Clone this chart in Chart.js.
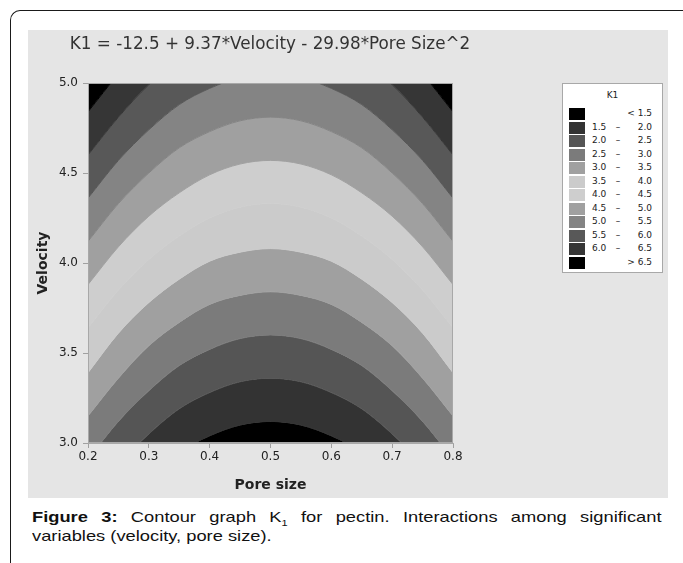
<!DOCTYPE html>
<html>
<head>
<meta charset="utf-8">
<script src="https://cdn.jsdelivr.net/npm/chart.js@4/dist/chart.umd.min.js"></script>
<style>
  body { margin: 0; background: #fff; width: 683px; height: 563px; overflow: hidden; position: relative; }
  #frame { position: absolute; left: 10px; top: 10px; width: 690px; height: 600px;
    border-top: 1.5px solid #1a1a1a; border-left: 1.5px solid #1a1a1a; border-top-left-radius: 10px; }
  #panel { position: absolute; left: 28px; top: 30px; width: 640px; height: 468px; background: #e5e5e5; }
  #title { position: absolute; left: 0; top: 3px; width: 484px; text-align: center;
    font: 16.8px "DejaVu Sans", sans-serif; color: #333; white-space: nowrap; }
  #legend { position: absolute; left: 534px; top: 53px; width: 99px; height: 188px;
    background: #fff; border: 1px solid #a8a8a8; font: 9px "DejaVu Sans", sans-serif; color: #222; }
  #legend .head { position: absolute; left: 0; width: 99px; top: 6px; text-align: center; }
  #legend .sw { position: absolute; left: 6px; width: 16px; height: 12px; }
  #legend .lo { position: absolute; left: 29px; }
  #legend .mid { position: absolute; left: 50px; width: 10px; text-align: center; }
  #legend .hi { position: absolute; right: 10px; }
  #caption { position: absolute; left: 32px; top: 508px; width: 516px;
    transform: scaleX(1.22); transform-origin: 0 0;
    font: 15px "Liberation Sans", Arial, sans-serif; color: #111; line-height: 18.5px; }
  #caption .l1 { text-align: justify; text-align-last: justify; white-space: nowrap; }
</style>
</head>
<body>
<div id="frame"></div>
<div id="panel">
  <div id="title">K1 = -12.5 + 9.37*Velocity - 29.98*Pore Size^2</div>
  <canvas id="chart" width="640" height="468"></canvas>
  <div id="legend"><div class="head">K1</div></div>
</div>
<div id="caption">
  <div class="l1"><b>Figure 3:</b> Contour graph K<sub style="font-size:9px; line-height:0">1</sub> for pectin. Interactions among significant</div>
  <div>variables (velocity, pore size).</div>
</div>
<script>
// pore size positions where the contour lines were read
const poreSize = [0.2, 0.25, 0.3, 0.35, 0.4, 0.45, 0.5, 0.55, 0.6, 0.65, 0.7, 0.75, 0.8];

// velocity of each contour line (K1 level) at the pore sizes above
const v15 = [2.43, 2.64, 2.81, 2.95, 3.04, 3.10, 3.12, 3.10, 3.04, 2.95, 2.81, 2.64, 2.43];
const v20 = [2.67, 2.88, 3.05, 3.19, 3.28, 3.34, 3.36, 3.34, 3.28, 3.19, 3.05, 2.88, 2.67];
const v25 = [2.91, 3.12, 3.29, 3.43, 3.52, 3.58, 3.60, 3.58, 3.52, 3.43, 3.29, 3.12, 2.91];
const v30 = [3.15, 3.36, 3.54, 3.67, 3.77, 3.82, 3.84, 3.82, 3.77, 3.67, 3.54, 3.36, 3.15];
const v35 = [3.39, 3.61, 3.78, 3.91, 4.01, 4.06, 4.08, 4.06, 4.01, 3.91, 3.78, 3.61, 3.39];
const v40 = [3.64, 3.85, 4.02, 4.15, 4.25, 4.31, 4.33, 4.31, 4.25, 4.15, 4.02, 3.85, 3.64];
const v45 = [3.88, 4.09, 4.26, 4.39, 4.49, 4.55, 4.57, 4.55, 4.49, 4.39, 4.26, 4.09, 3.88];
const v50 = [4.12, 4.33, 4.50, 4.64, 4.73, 4.79, 4.81, 4.79, 4.73, 4.64, 4.50, 4.33, 4.12];
const v55 = [4.36, 4.57, 4.74, 4.88, 4.97, 5.03, 5.05, 5.03, 4.97, 4.88, 4.74, 4.57, 4.36];
const v60 = [4.60, 4.81, 4.99, 5.12, 5.21, 5.27, 5.29, 5.27, 5.21, 5.12, 4.99, 4.81, 4.60];
const v65 = [4.84, 5.05, 5.23, 5.36, 5.46, 5.51, 5.53, 5.51, 5.46, 5.36, 5.23, 5.05, 4.84];

const levels = [1.5, 2.0, 2.5, 3.0, 3.5, 4.0, 4.5, 5.0, 5.5, 6.0, 6.5];
const levelLines = [v15, v20, v25, v30, v35, v40, v45, v50, v55, v60, v65];

// bands from lowest to highest K1
const bandLabels = ["< 1.5", "1.5 – 2.0", "2.0 – 2.5", "2.5 – 3.0", "3.0 – 3.5", "3.5 – 4.0",
  "4.0 – 4.5", "4.5 – 5.0", "5.0 – 5.5", "5.5 – 6.0", "6.0 – 6.5", "> 6.5"];
const bandColors = ["#000000", "#333333", "#555555", "#7b7b7b", "#a0a0a0", "#cbcbcb",
  "#cecece", "#a0a0a0", "#848484", "#585858", "#363636", "#000000"];

const xTicks = [0.2, 0.3, 0.4, 0.5, 0.6, 0.7, 0.8];
const yTicks = [3.0, 3.5, 4.0, 4.5, 5.0];

function toPoints(line) {
  return line.map((v, i) => ({ x: poreSize[i], y: v }));
}

// highest level first, each one fills down to the line above it
const datasets = [];
for (let i = levelLines.length - 1; i >= 0; i--) {
  const color = bandColors[i + 1];
  datasets.push({
    label: "K1 " + levels[i],
    data: toPoints(levelLines[i]),
    fill: i === levelLines.length - 1 ? "end" : "-1",
    backgroundColor: color,
    borderColor: color,
    borderWidth: 1,
    pointRadius: 0,
    cubicInterpolationMode: "monotone",
  });
}
datasets.push({
  label: "K1 < 1.5",
  data: toPoints(v15),
  fill: "start",
  backgroundColor: bandColors[0],
  borderColor: bandColors[1],
  borderWidth: 1,
  pointRadius: 0,
  cubicInterpolationMode: "monotone",
});

const frameBox = {
  id: "frameBox",
  afterDraw(chart) {
    const { ctx, chartArea } = chart;
    ctx.save();
    ctx.strokeStyle = "#a8a8a8";
    ctx.lineWidth = 1;
    ctx.strokeRect(chartArea.left + 0.5, chartArea.top + 0.5,
      chartArea.right - chartArea.left - 1, chartArea.bottom - chartArea.top - 1);
    ctx.restore();
  },
};

new Chart(document.getElementById("chart"), {
  type: "line",
  data: { datasets: datasets },
  options: {
    responsive: false,
    animation: false,
    devicePixelRatio: 1,
    layout: { padding: { left: 0, top: 53, right: 215, bottom: 3 } },
    plugins: { legend: { display: false }, tooltip: { enabled: false } },
    scales: {
      x: {
        type: "linear",
        min: 0.2,
        max: 0.8,
        afterFit: (scale) => { scale.height = 52; },
        afterBuildTicks: (scale) => { scale.ticks = xTicks.map((v) => ({ value: v })); },
        ticks: {
          padding: 2,
          color: "#222",
          font: { family: "DejaVu Sans", size: 12 },
          callback: (v) => Number(v).toFixed(1),
        },
        grid: { drawOnChartArea: false, tickLength: 5, color: "#a0a0a0" },
        border: { color: "#a8a8a8" },
        title: {
          display: true,
          text: "Pore size",
          color: "#222",
          font: { family: "DejaVu Sans", size: 14, weight: "bold" },
          padding: { top: 0, bottom: 1.6 },
        },
      },
      y: {
        type: "linear",
        min: 3,
        max: 5,
        afterFit: (scale) => { scale.width = 60; },
        afterBuildTicks: (scale) => { scale.ticks = yTicks.map((v) => ({ value: v })); },
        ticks: {
          padding: 5,
          color: "#222",
          font: { family: "DejaVu Sans", size: 12 },
          callback: (v) => Number(v).toFixed(1),
        },
        grid: { drawOnChartArea: false, tickLength: 5, color: "#a0a0a0" },
        border: { color: "#a8a8a8" },
        title: {
          display: true,
          text: "Velocity",
          color: "#222",
          font: { family: "DejaVu Sans", size: 14, weight: "bold" },
          padding: { top: 6.5, bottom: 0 },
        },
      },
    },
  },
  plugins: [frameBox],
});

// legend box, lowest band on top like the original
const legend = document.getElementById("legend");
bandLabels.forEach((label, i) => {
  const top = 24 + i * 13.5;
  const sw = document.createElement("div");
  sw.className = "sw";
  sw.style.top = top + "px";
  sw.style.background = bandColors[i];
  legend.appendChild(sw);
  const parts = label.split(" – ");
  if (parts.length === 2) {
    [["lo", parts[0]], ["mid", "–"], ["hi", parts[1]]].forEach(([cls, txt]) => {
      const s = document.createElement("span");
      s.className = cls;
      s.style.top = top + "px";
      s.textContent = txt;
      legend.appendChild(s);
    });
  } else {
    const s = document.createElement("span");
    s.className = "hi";
    s.style.top = top + "px";
    s.textContent = label;
    legend.appendChild(s);
  }
});
</script>
</body>
</html>
